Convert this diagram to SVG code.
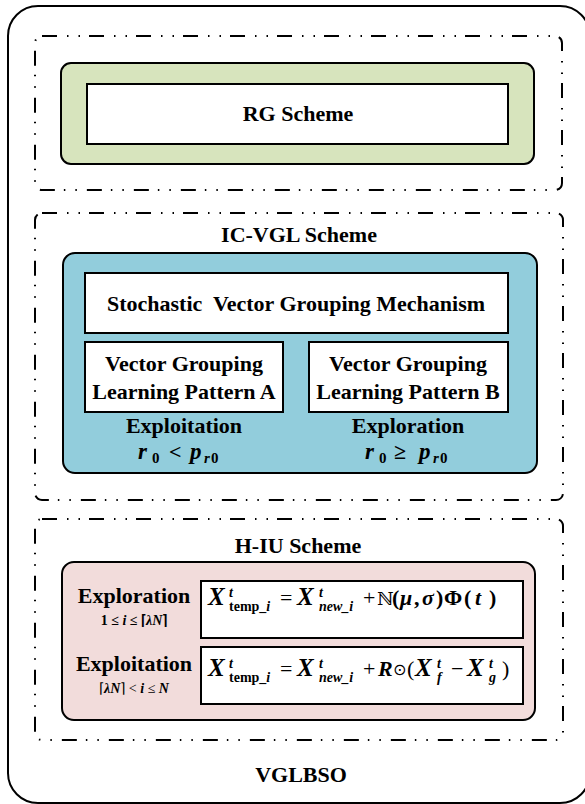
<svg xmlns="http://www.w3.org/2000/svg" width="585" height="804" viewBox="0 0 585 804">
  <style>
    .frame { fill: none; stroke: #000; stroke-width: 2; }
    .dashed { fill: none; stroke: #000; stroke-width: 2; stroke-dasharray: 15 10 1.5 10 1.5 9; }
    .panel { stroke: #000; stroke-width: 2; }
    .box { fill: #fff; stroke: #000; stroke-width: 2; }
    .t { font-family: "Liberation Serif", "Times New Roman", serif; font-weight: bold; font-size: 22px; fill: #000; }
    .m { font-family: "Liberation Serif", "Times New Roman", serif; font-weight: bold; font-size: 22px; fill: #000; }
    .it { font-style: italic; }
    .up { font-style: normal; }
    .big { font-size: 25px; }
    .sc { font-size: 14px; }
    .op { font-weight: normal; font-style: normal; }
  </style>

  <!-- outer VGLBSO frame -->
  <g id="vglbso">
    <rect class="frame" x="8" y="6" width="582" height="797" rx="30"/>
    <text class="t" x="301" y="782" text-anchor="middle">VGLBSO</text>
  </g>

  <!-- RG scheme -->
  <g id="rg-scheme">
    <rect class="dashed" x="35" y="36" width="527" height="154" rx="7"/>
    <rect class="panel" x="61" y="63" width="473" height="101" rx="10" fill="#d7e4bd"/>
    <rect class="box" x="87" y="84" width="421" height="60"/>
    <text class="t" x="298" y="121" text-anchor="middle">RG Scheme</text>
  </g>

  <!-- IC-VGL scheme -->
  <g id="ic-vgl-scheme">
    <rect class="dashed" x="35" y="213" width="528" height="287" rx="7"/>
    <text class="t" x="299" y="242" text-anchor="middle">IC-VGL Scheme</text>
    <rect class="panel" x="63" y="253" width="474" height="220" rx="12" fill="#92cddc"/>
  </g>

  <g id="stochastic-mechanism">
    <rect class="box" x="85" y="273" width="423" height="60"/>
    <text class="t" x="296" y="311" text-anchor="middle" style="white-space: pre">Stochastic  Vector Grouping Mechanism</text>
  </g>

  <g id="pattern-a">
    <rect class="box" x="85" y="342" width="198" height="70"/>
    <text class="t" x="184" y="371" text-anchor="middle">Vector Grouping</text>
    <text class="t" x="184" y="399" text-anchor="middle">Learning Pattern A</text>
    <text class="t" x="184" y="433" text-anchor="middle">Exploitation</text>
    <text class="m it"><tspan x="138" y="459" font-size="23">r</tspan><tspan class="up" x="152" y="463" font-size="15">0</tspan><tspan class="up" x="169" y="459">&lt;</tspan><tspan x="190" y="459" font-size="23">p</tspan><tspan x="204" y="463" font-size="15">r</tspan><tspan class="up" x="211" y="463" font-size="15">0</tspan></text>
  </g>

  <g id="pattern-b">
    <rect class="box" x="309" y="342" width="199" height="70"/>
    <text class="t" x="408" y="371" text-anchor="middle">Vector Grouping</text>
    <text class="t" x="408" y="399" text-anchor="middle">Learning Pattern B</text>
    <text class="t" x="408" y="433" text-anchor="middle">Exploration</text>
    <text class="m it"><tspan x="365" y="459" font-size="23">r</tspan><tspan class="up" x="379" y="463" font-size="15">0</tspan><tspan class="up" x="394" y="459">≥</tspan><tspan x="419" y="459" font-size="23">p</tspan><tspan x="433" y="463" font-size="15">r</tspan><tspan class="up" x="440" y="463" font-size="15">0</tspan></text>
  </g>

  <!-- H-IU scheme -->
  <g id="h-iu-scheme">
    <rect class="dashed" x="35" y="519" width="528" height="221" rx="7"/>
    <text class="t" x="298" y="553" text-anchor="middle">H-IU Scheme</text>
    <rect class="panel" x="62" y="562" width="473" height="158" rx="12" fill="#f2dcdb"/>
  </g>

  <g id="exploration-update">
    <text class="t" x="134" y="603" text-anchor="middle">Exploration</text>
    <text class="m" x="134" y="625" text-anchor="middle" style="font-size:14px">1 ≤ <tspan class="it">i</tspan> ≤ ⌈<tspan class="it">λN</tspan>⌉</text>
    <rect class="box" x="201" y="581" width="322" height="57"/>
    <text class="m">
      <tspan class="it big" x="208" y="605">X</tspan>
      <tspan class="it sc" x="229" y="597">t</tspan>
      <tspan class="sc" x="229" y="611">temp_<tspan class="it">i</tspan></tspan>
      <tspan class="op" x="280" y="605">=</tspan>
      <tspan class="it big" x="297" y="605">X</tspan>
      <tspan class="it sc" x="319" y="597">t</tspan>
      <tspan class="it sc" x="319" y="611">new_i</tspan>
      <tspan class="op" x="363" y="605">+</tspan>
      <tspan class="op" x="377" y="605" font-family="DejaVu Serif, serif" font-size="18">ℕ</tspan>
      <tspan class="up" x="392" y="605">(</tspan>
      <tspan class="it" x="400" y="605">μ</tspan>
      <tspan class="up" x="414" y="605">,</tspan>
      <tspan class="it" x="422" y="605">σ</tspan>
      <tspan class="up" x="436" y="605">)</tspan>
      <tspan class="up" x="444" y="605">Φ</tspan>
      <tspan class="up" x="464" y="605">(</tspan>
      <tspan class="it" x="475" y="605">t</tspan>
      <tspan class="up" x="489" y="605">)</tspan>
    </text>
  </g>

  <g id="exploitation-update">
    <text class="t" x="134" y="671" text-anchor="middle">Exploitation</text>
    <text class="m" x="134" y="693" text-anchor="middle" style="font-size:14px; font-weight:normal">⌈<tspan class="it" font-weight="bold">λN</tspan>⌉ &lt; <tspan class="it" font-weight="bold">i</tspan> ≤ <tspan class="it" font-weight="bold">N</tspan></text>
    <rect class="box" x="201" y="647" width="322" height="57"/>
    <text class="m">
      <tspan class="it big" x="208" y="676">X</tspan>
      <tspan class="it sc" x="229" y="668">t</tspan>
      <tspan class="sc" x="229" y="682">temp_<tspan class="it">i</tspan></tspan>
      <tspan class="op" x="280" y="676">=</tspan>
      <tspan class="it big" x="297" y="676">X</tspan>
      <tspan class="it sc" x="319" y="668">t</tspan>
      <tspan class="it sc" x="319" y="682">new_i</tspan>
      <tspan class="op" x="363" y="676">+</tspan>
      <tspan class="it" x="378" y="676">R</tspan>
      <tspan class="op" x="393" y="675" font-family="DejaVu Sans, sans-serif" font-size="16">⊙</tspan>
      <tspan class="op" x="407" y="676">(</tspan>
      <tspan class="it big" x="415" y="676">X</tspan>
      <tspan class="it sc" x="437" y="668">t</tspan>
      <tspan class="it sc" x="437" y="682">f</tspan>
      <tspan class="op" x="451" y="676">−</tspan>
      <tspan class="it big" x="467" y="676">X</tspan>
      <tspan class="it sc" x="489" y="668">t</tspan>
      <tspan class="it sc" x="489" y="682">g</tspan>
      <tspan class="op" x="502" y="676">)</tspan>
    </text>
  </g>
</svg>
